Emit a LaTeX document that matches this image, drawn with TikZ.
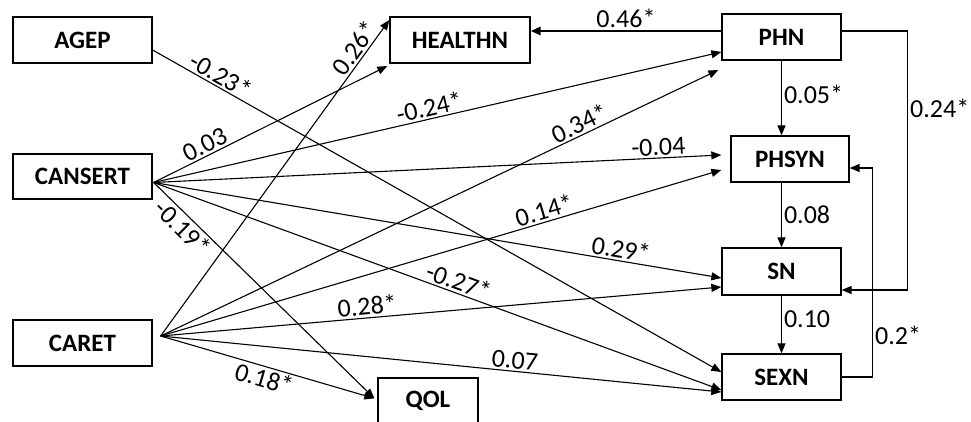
\documentclass[tikz,border=0pt]{standalone}
\usepackage{fontspec}
\setmainfont{Carlito}
\usetikzlibrary{arrows.meta,calc}

\begin{document}
\begin{tikzpicture}[x=1pt,y=-1pt,>={Triangle[length=10pt,width=8pt]},line width=1.1pt,
  box/.style={draw,line width=1.3pt,minimum height=46pt,inner sep=0pt,font=\fontsize{25}{30}\selectfont\bfseries},
  lbl/.style={font=\fontsize{26}{30}\selectfont,inner sep=2pt}]
  \useasboundingbox (0,0) rectangle (971,421);
  % predictors
  \node[box,minimum width=139pt] (agep) at (82.5,40) {AGEP};
  \node[box,minimum width=139pt,minimum height=45pt] (cansert) at (82.5,176.5) {CANSERT};
  \node[box,minimum width=139pt] (caret) at (82.5,343) {CARET};
  % outcomes
  \node[box,minimum width=140pt] (healthn) at (460,40) {HEALTHN};
  \node[box,minimum width=100pt] (qol) at (428,401) {QOL};
  \node[box,minimum width=119pt] (phn) at (781.5,37) {PHN};
  \node[box,minimum width=118pt] (phsyn) at (790,159) {PHSYN};
  \node[box,minimum width=119pt,minimum height=47pt] (sn) at (781.5,271.5) {SN};
  \node[box,minimum width=119pt] (sexn) at (781.5,377) {SEXN};
  % AGEP paths
  \draw[->] ($(agep.east)+(0,10)$) -- node[lbl,sloped,above,pos=0.11]{-0.23*} ($(sexn.west)+(0,-5)$);
  % CANSERT paths
  \draw[->] ($(cansert.east)+(1,6)$) -- node[lbl,sloped,above,pos=0.24]{0.03} ($(healthn.west)+(-2,26)$);
  \draw[->] ($(cansert.east)+(1,6)$) -- node[lbl,sloped,above,pos=0.49]{-0.24*} ($(phn.west)+(0,15)$);
  \draw[->] ($(cansert.east)+(1,6)$) -- node[lbl,sloped,above,pos=0.89]{-0.04} ($(phsyn.west)+(-9,-4)$);
  \draw[->] ($(cansert.east)+(1,6)$) -- node[lbl,sloped,above,pos=0.82]{0.29*} ($(sn.west)+(0,6.5)$);
  \draw[->] ($(cansert.east)+(1,6)$) -- node[lbl,sloped,above,pos=0.53]{-0.27*} ($(sexn.west)+(0,13)$);
  \draw[->] ($(cansert.east)+(1,6)$) -- node[lbl,sloped,below,pos=0.17]{-0.19*} ($(qol.north west)+(-3,21)$);
  % CARET paths
  \draw[->] ($(caret.east)+(8,-7)$) -- node[lbl,sloped,above,pos=0.89]{0.26*} ($(healthn.west)+(0,-20)$);
  \draw[->] ($(caret.east)+(8,-7)$) -- node[lbl,sloped,above,pos=0.76]{0.34*} ($(phn.west)+(-3,33)$);
  \draw[->] ($(caret.east)+(8,-7)$) -- node[lbl,sloped,above,pos=0.69]{0.14*} ($(phsyn.west)+(-9,11)$);
  \draw[->] ($(caret.east)+(8,-7)$) -- node[lbl,sloped,above,pos=0.37]{0.28*} ($(sn.west)+(0,15.5)$);
  \draw[->] ($(caret.east)+(8,-7)$) -- node[lbl,sloped,above,pos=0.63]{0.07} ($(sexn.west)+(0,15)$);
  \draw[->] ($(caret.east)+(8,-7)$) -- node[lbl,sloped,below,pos=0.5]{0.18*} ($(qol.north west)+(-3,21)$);
  % chain on the right
  \draw[->,line width=2.6pt] ($(phn.west)+(0,-6)$) -- node[lbl,above]{0.46*} ($(healthn.east)+(0,-9)$);
  \draw[->] (phn.south) -- node[lbl,right,pos=0.45]{0.05*} (phn.south |- phsyn.north);
  \draw[->] (sn.north |- phsyn.south) -- node[lbl,right]{0.08} (sn.north);
  \draw[->] (sn.south) -- node[lbl,right,pos=0.4]{0.10} (sexn.north);
  \draw[->] ($(phn.east)+(0,-6)$) -- ++(66,0) |- node[lbl,right,pos=0.15]{0.24*} ($(sn.east)+(0,18.5)$);
  \draw[->] (sexn.east) -- ++(31,0) |- node[lbl,right,pos=0.1]{0.2*} ($(phsyn.east)+(0,9)$);
\end{tikzpicture}
\end{document}
